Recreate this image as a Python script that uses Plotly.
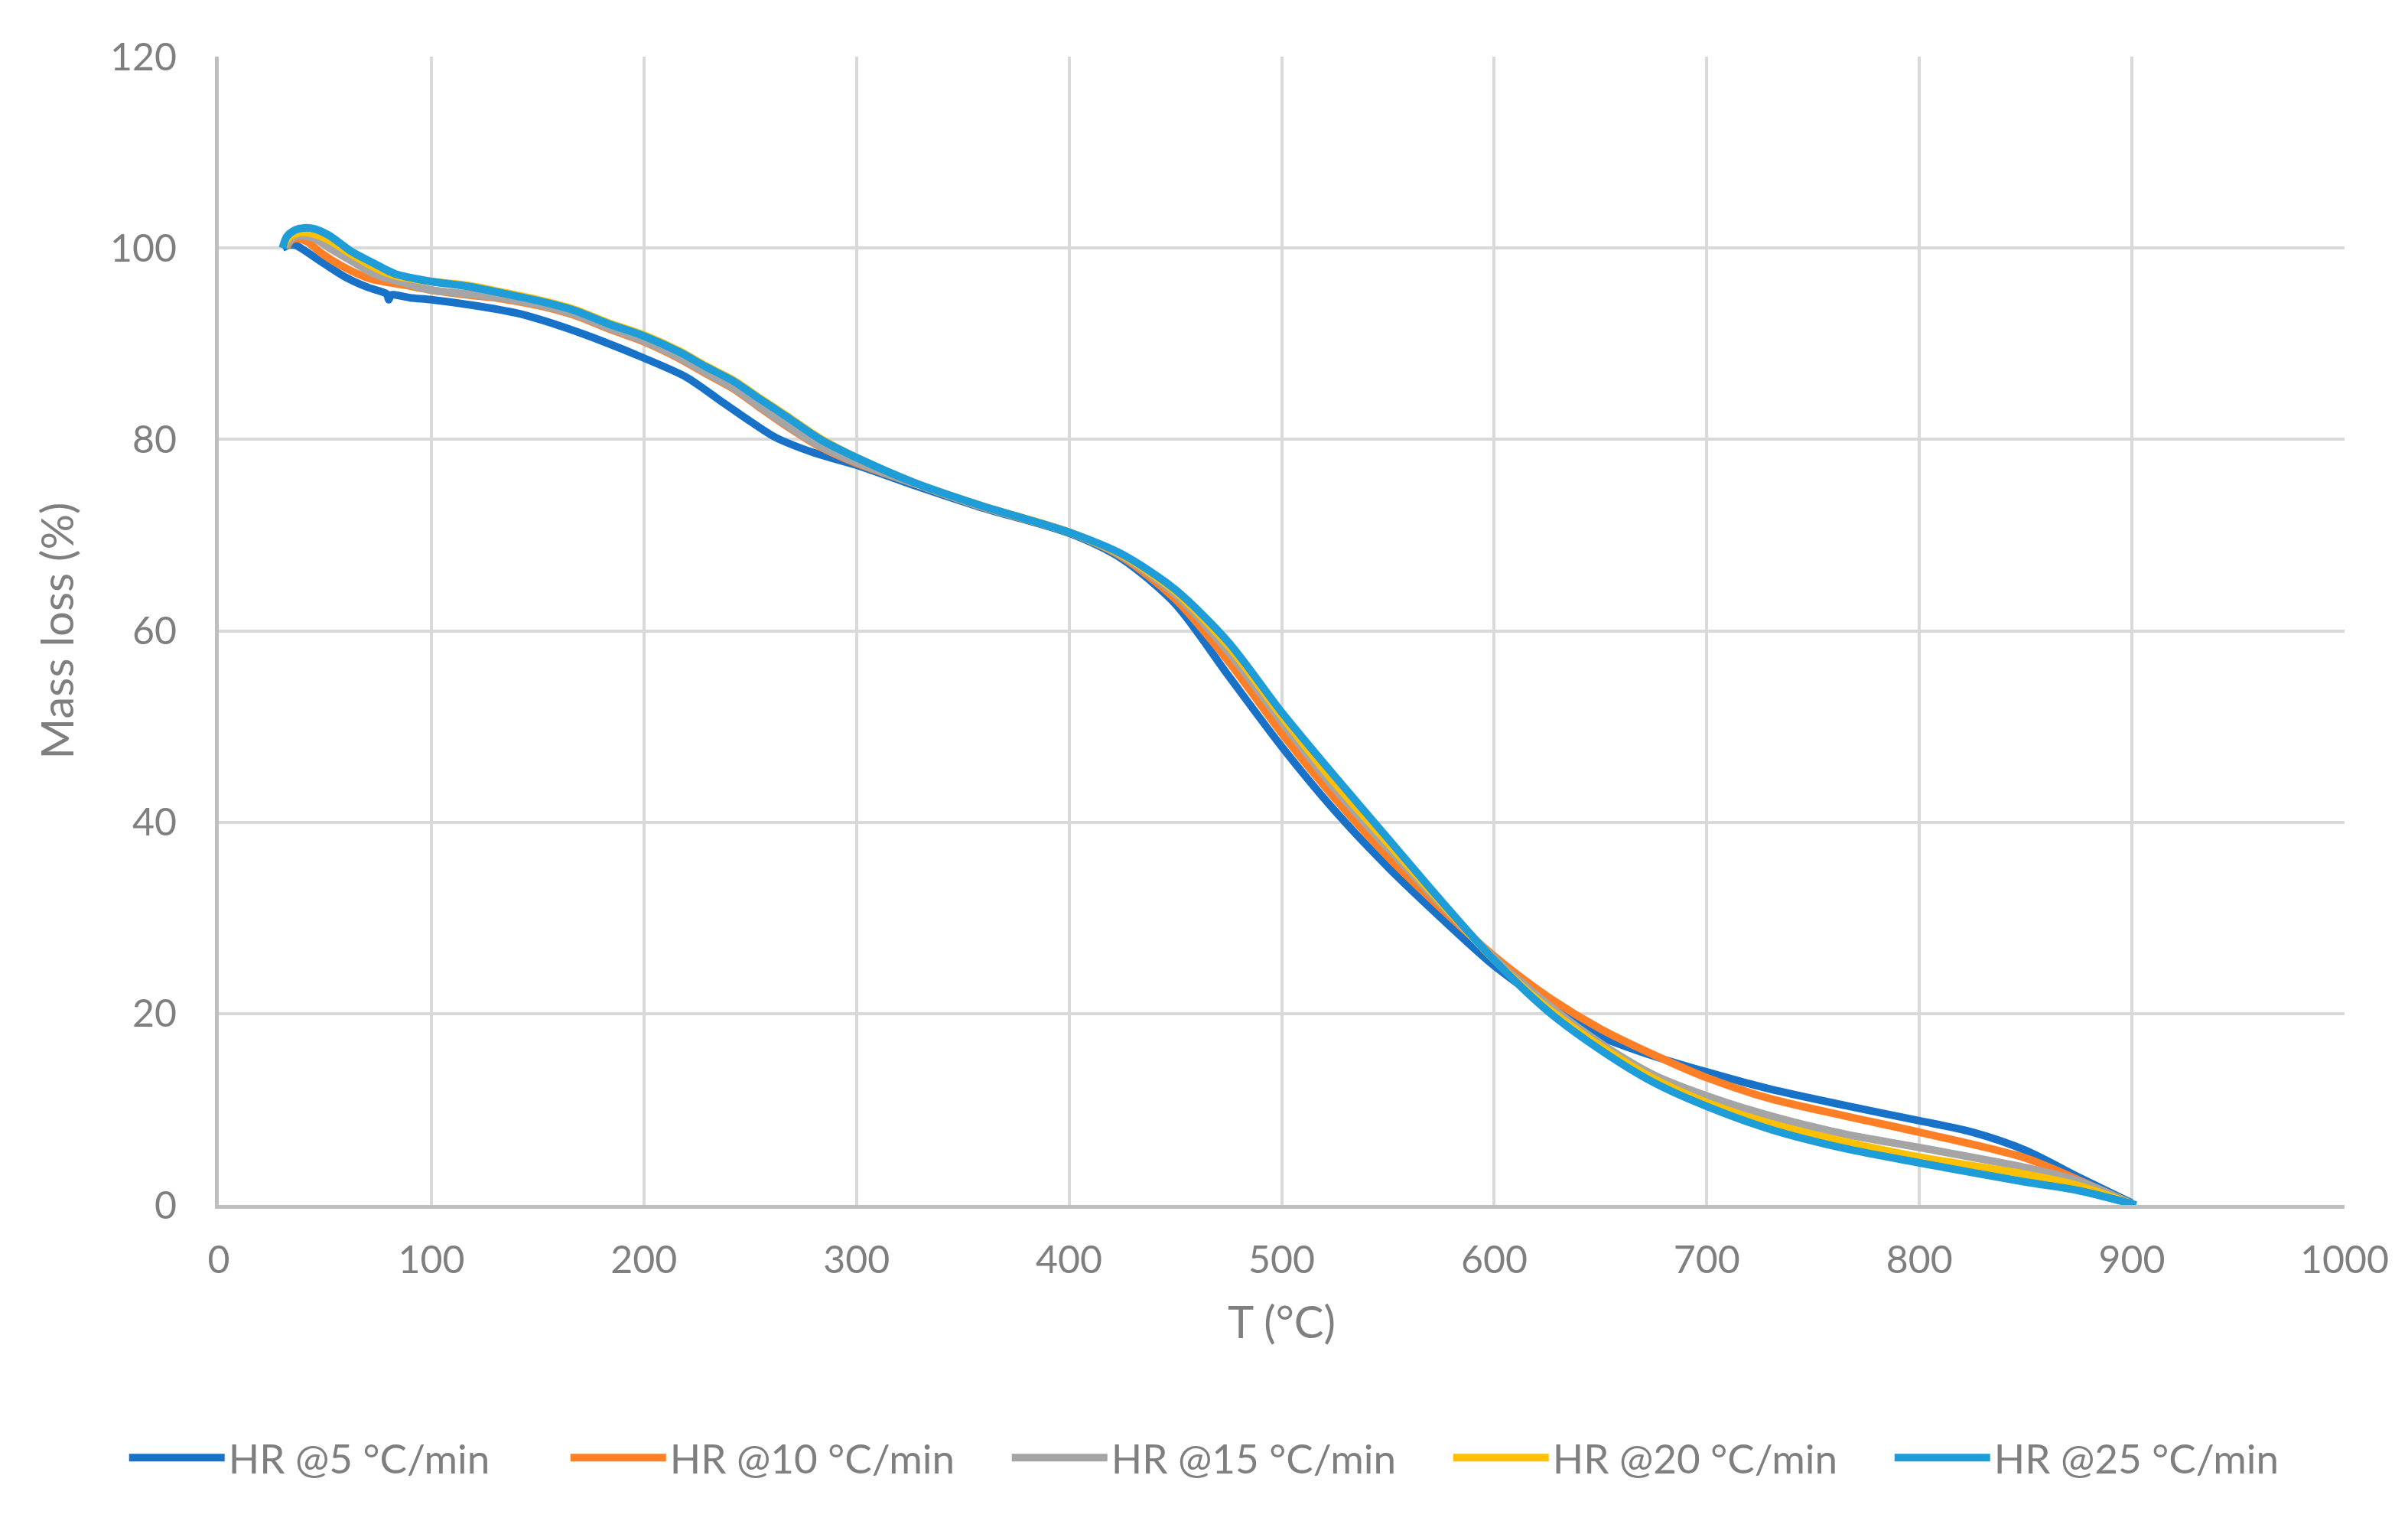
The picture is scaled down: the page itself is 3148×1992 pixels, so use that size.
import plotly.graph_objects as go

# ---- data ----
series_names = ["HR @5 °C/min", "HR @10 °C/min", "HR @15 °C/min", "HR @20 °C/min", "HR @25 °C/min"]
series_colors = ["#1873C8", "#FF7F27", "#A5A5A5", "#FFC000", "#1E9DD8"]

t_hr5 = [30, 33, 36, 40, 50, 60, 70, 77, 79, 80, 81, 83, 90, 100, 120, 140, 160, 180, 200, 220, 235,
         250, 262, 280, 300, 327, 357, 400, 425, 450, 475, 500, 525, 550, 575, 600, 625, 650, 673,
         700, 730, 765, 800, 825, 850, 875, 900]
m_hr5 = [100.0, 100.3, 100.3, 99.8, 98.3, 96.9, 95.9, 95.4, 95.2, 94.6, 95.1, 95.1, 94.8, 94.6, 94.0,
         93.2, 91.9, 90.3, 88.5, 86.5, 84.2, 81.9, 80.2, 78.6, 77.3, 75.2, 73.0, 70.2, 67.5, 62.8,
         55.3, 47.9, 41.2, 35.3, 30.0, 25.0, 21.0, 17.6, 15.7, 13.9, 12.1, 10.4, 8.8, 7.6, 5.7, 2.9,
         0.2]

t_hr10 = [32, 34, 37, 42, 48, 58, 71, 88, 100, 117, 133, 150, 167, 183, 200, 217, 229, 242, 254,
          267, 283, 300, 327, 357, 400, 425, 450, 475, 500, 525, 550, 575, 600, 625, 650, 675, 700,
          730, 765, 800, 850, 875, 900]
m_hr10 = [100.1, 100.8, 101.0, 100.6, 99.5, 98.1, 96.8, 96.1, 95.6, 95.1, 94.7, 94.0, 93.0, 91.6,
          90.2, 88.4, 86.9, 85.3, 83.4, 81.4, 79.2, 77.5, 75.4, 73.1, 70.3, 67.7, 63.3, 56.8, 49.3,
          42.5, 36.4, 31.0, 26.0, 21.8, 18.4, 15.7, 13.3, 11.1, 9.3, 7.6, 4.9, 2.6, 0.1]

t_hr15 = [31, 34, 37.5, 45, 52, 62, 73, 88, 100, 117, 133, 150, 167, 183, 200, 217, 229, 242, 254,
          267, 283, 300, 327, 357, 400, 425, 450, 475, 500, 525, 550, 575, 600, 625, 650, 675, 700,
          730, 765, 800, 850, 875, 901]
m_hr15 = [100.1, 100.9, 101.3, 101.0, 100.0, 98.7, 97.3, 96.3, 95.6, 95.2, 94.8, 94.1, 93.1, 91.7,
          90.3, 88.5, 87.0, 85.4, 83.5, 81.5, 79.3, 77.6, 75.4, 73.1, 70.3, 67.8, 63.8, 57.8, 50.5,
          43.5, 37.3, 31.4, 25.8, 21.0, 16.9, 13.6, 11.4, 9.3, 7.4, 6.0, 3.9, 2.5, 0.0]

t_hr20 = [30, 33, 38, 44, 52, 62, 73, 83, 100, 117, 133, 150, 167, 183, 200, 217, 229, 242, 254,
          267, 283, 300, 327, 357, 400, 425, 450, 475, 500, 525, 550, 575, 600, 625, 650, 675, 700,
          730, 765, 800, 850, 875, 901]
m_hr20 = [100.1, 101.1, 101.6, 101.5, 100.8, 99.4, 98.0, 97.1, 96.5, 96.1, 95.4, 94.6, 93.6, 92.2,
          90.9, 89.2, 87.7, 86.2, 84.4, 82.5, 80.1, 78.1, 75.5, 73.2, 70.3, 67.9, 64.1, 58.4, 51.1,
          44.1, 37.8, 31.6, 25.6, 20.6, 16.6, 13.2, 10.7, 8.5, 6.6, 5.0, 3.2, 2.0, 0.0]

t_hr25 = [30, 32, 36, 40, 45, 52, 62, 73, 83, 100, 117, 133, 150, 167, 183, 200, 217, 229, 242, 254,
          267, 283, 300, 327, 357, 400, 425, 450, 475, 500, 525, 550, 575, 600, 625, 650, 675, 700,
          730, 765, 800, 850, 875, 902]
m_hr25 = [100.0, 101.2, 101.9, 102.1, 102.0, 101.3, 99.7, 98.4, 97.3, 96.5, 96.0, 95.3, 94.5, 93.5,
          92.1, 90.8, 89.1, 87.6, 86.1, 84.3, 82.4, 80.0, 78.1, 75.5, 73.2, 70.3, 68.0, 64.3, 58.8,
          51.5, 44.8, 38.3, 31.8, 25.6, 20.3, 16.2, 12.8, 10.3, 7.9, 5.9, 4.4, 2.4, 1.5, 0.0]

x_ticks = [0, 100, 200, 300, 400, 500, 600, 700, 800, 900, 1000]
y_ticks = [0, 20, 40, 60, 80, 100, 120]

series_t = [t_hr5, t_hr10, t_hr15, t_hr20, t_hr25]
series_m = [m_hr5, m_hr10, m_hr15, m_hr20, m_hr25]

FONT = "Lato"
GRAY = "#7F7F7F"

fig = go.Figure()
for name, color, tx, my in zip(series_names, series_colors, series_t, series_m):
    fig.add_trace(go.Scatter(
        x=tx, y=my, name=name, mode="lines",
        line=dict(color=color, width=10, shape="spline", smoothing=0.8),
    ))

fig.update_layout(
    width=3148, height=1992,
    paper_bgcolor="white", plot_bgcolor="white",
    margin=dict(l=278, r=91, t=66, b=425),
    font=dict(family=FONT, color=GRAY, size=50),
    showlegend=True,
    legend=dict(
        orientation="h", x=-0.044, xanchor="left", y=-0.22, yanchor="middle",
        font=dict(family=FONT, size=53, color=GRAY),
        entrywidth=437, entrywidthmode="pixels", itemwidth=125,
        bgcolor="rgba(0,0,0,0)",
    ),
)

fig.update_xaxes(
    range=[0, 1000], tickvals=x_ticks, ticktext=[str(v) for v in x_ticks],
    showgrid=True, gridcolor="#D9D9D9", gridwidth=4,
    showline=True, linecolor="#BFBFBF", linewidth=5,
    zeroline=False, ticks="", ticklabelstandoff=24,
    tickfont=dict(family=FONT, size=50, color=GRAY),
    title=dict(text="T (°C)", font=dict(family=FONT, size=58, color=GRAY), standoff=36),
)
fig.update_yaxes(
    range=[0, 120], tickvals=y_ticks, ticktext=[str(v) for v in y_ticks],
    showgrid=True, gridcolor="#D9D9D9", gridwidth=4,
    showline=True, linecolor="#BFBFBF", linewidth=5,
    zeroline=False, ticks="", ticklabelstandoff=40,
    tickfont=dict(family=FONT, size=50, color=GRAY),
    title=dict(text="Mass loss (%)", font=dict(family=FONT, size=58, color=GRAY), standoff=30),
)

fig.write_html("out.html")
